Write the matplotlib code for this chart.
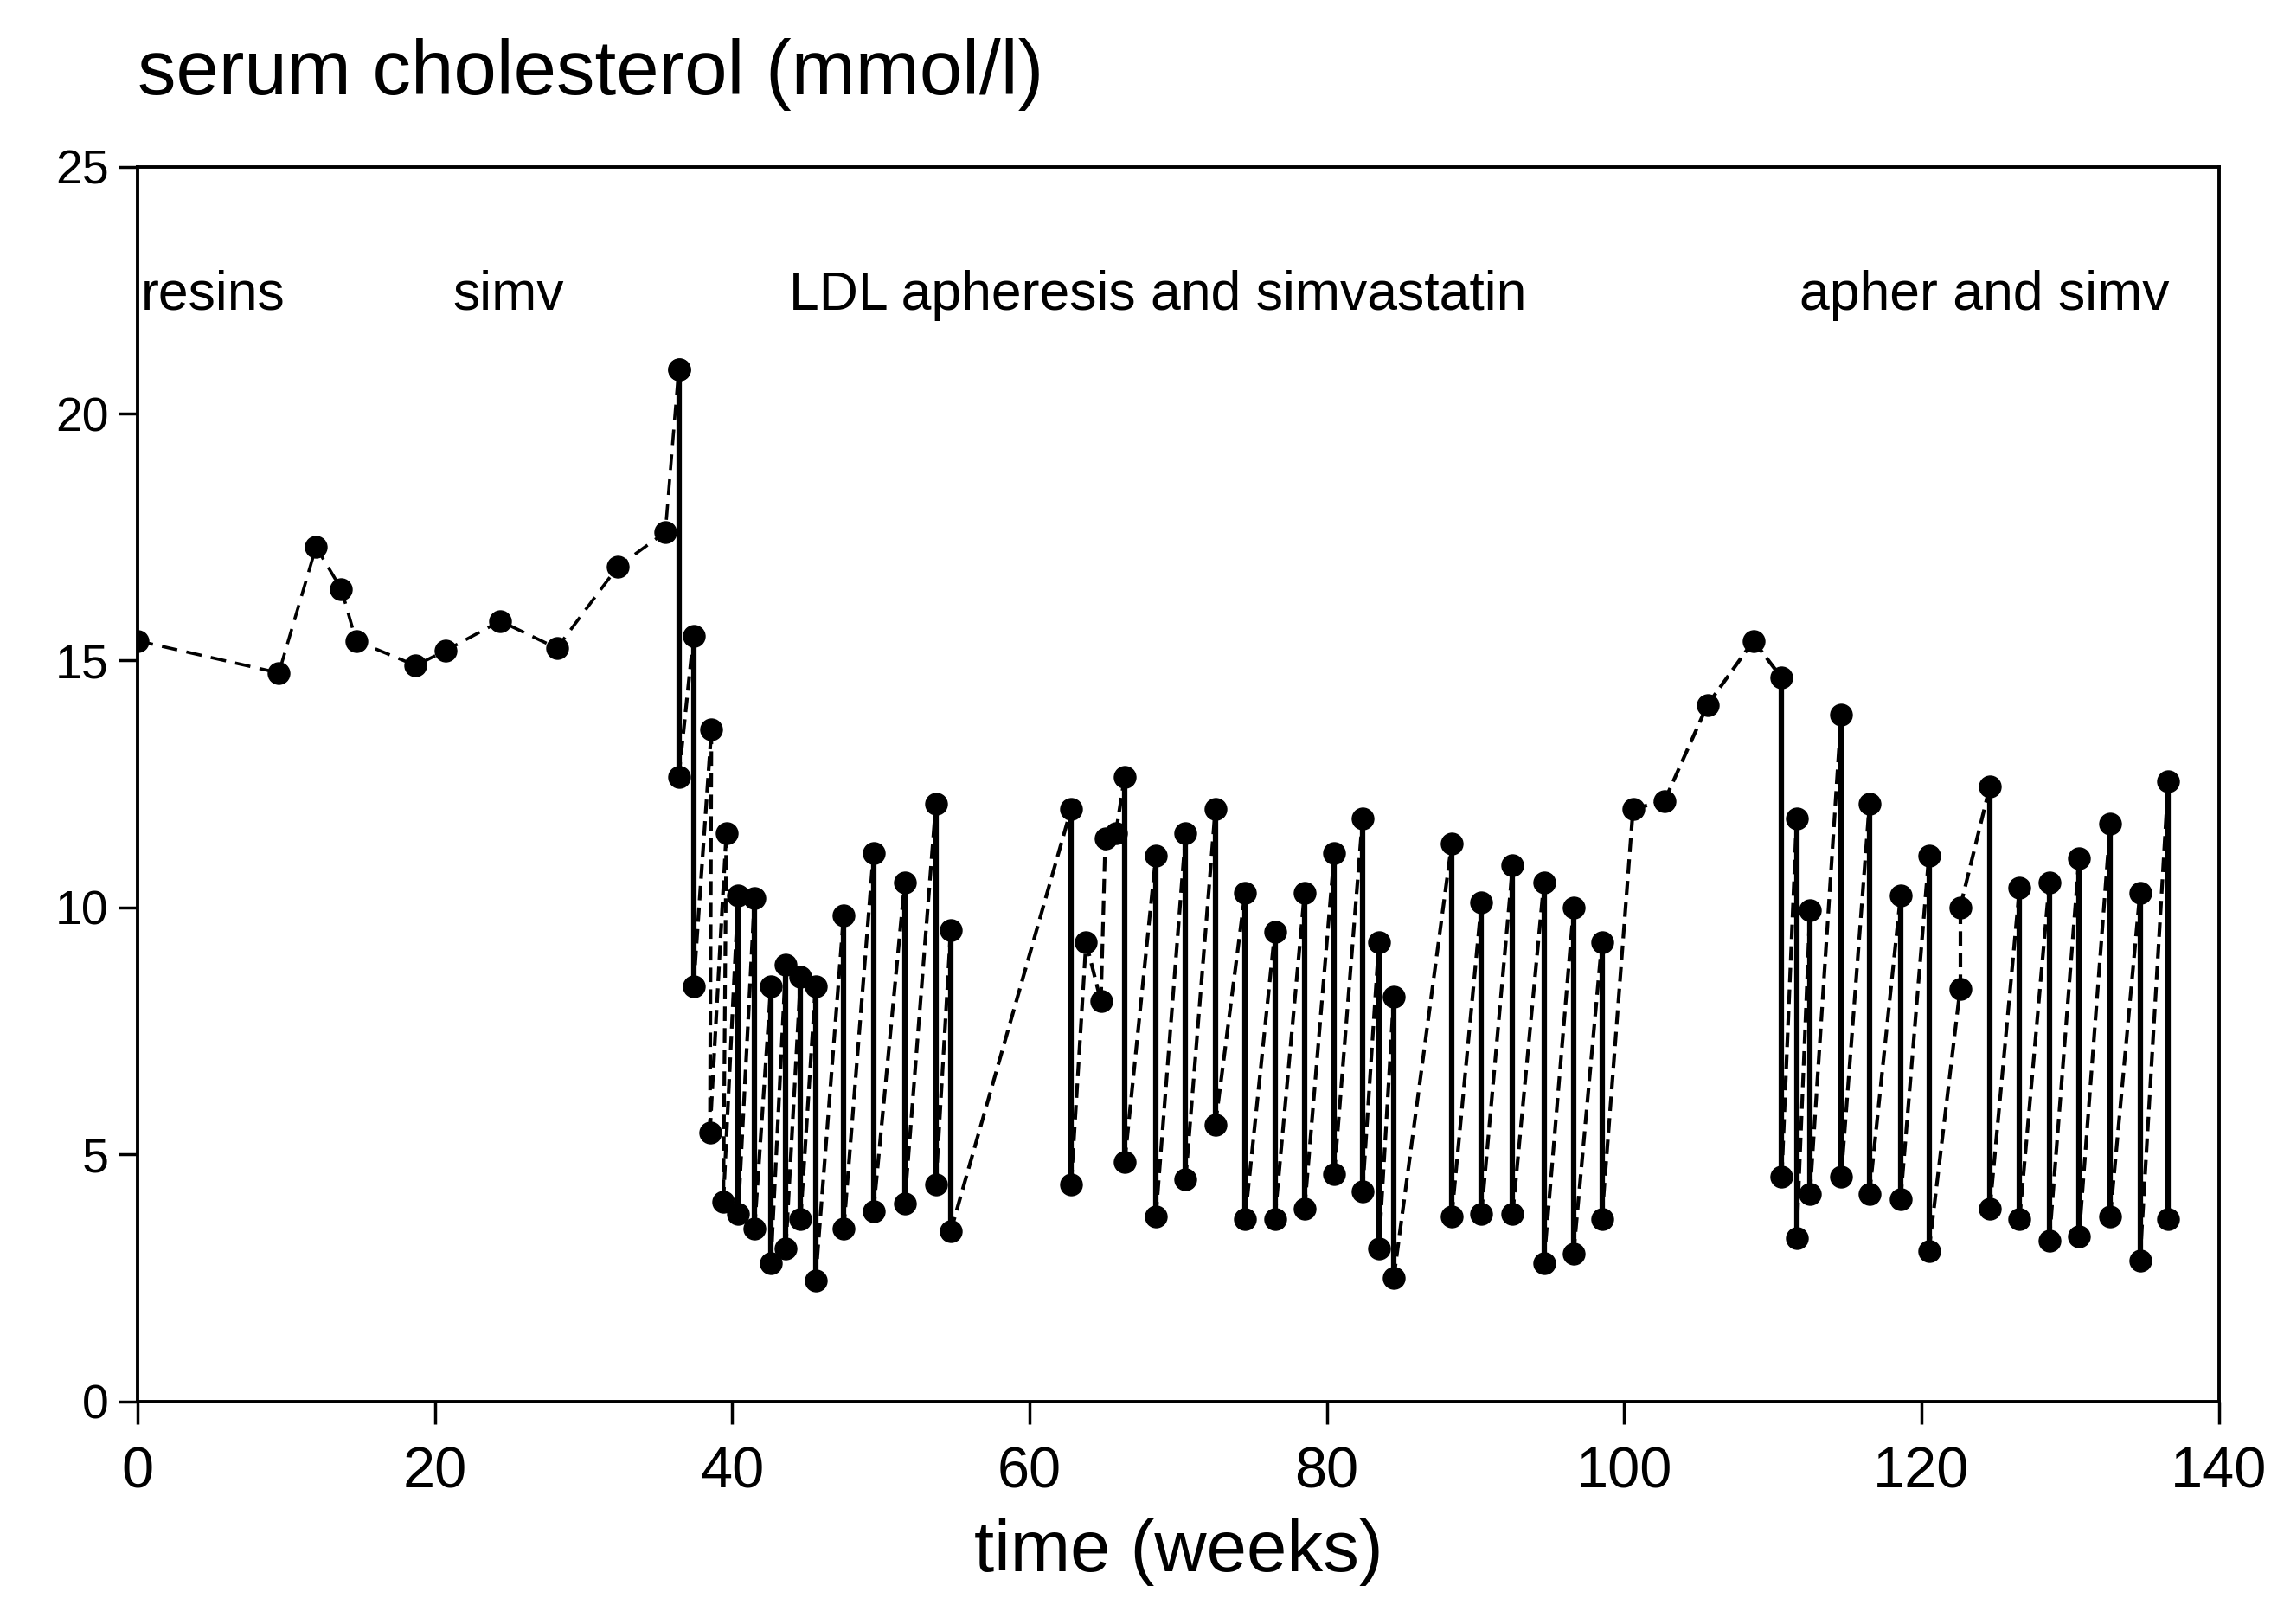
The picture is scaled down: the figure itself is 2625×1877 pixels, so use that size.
import matplotlib
matplotlib.use('Agg')
import matplotlib.pyplot as plt

# ---------------- data ----------------
pre_weeks = [0, 9.5, 12.0, 13.7, 14.7, 18.7, 20.7, 24.4, 28.2, 32.3, 35.5, 36.4]
pre_chol = [15.4, 14.75, 17.3, 16.45, 15.4, 14.9, 15.2, 15.8, 15.25, 16.9, 17.6, 20.9]

aph_weeks = [36.4, 36.4, 37.4, 37.4, 38.6, 38.5, 39.6, 39.4, 40.4, 40.4,
             41.5, 41.5, 42.6, 42.6, 43.6, 43.6, 44.6, 44.6, 45.6, 45.6,
             47.5, 47.5, 49.5, 49.5, 51.6, 51.6, 53.7, 53.7, 54.7, 54.7,
             62.8, 62.8, 63.8, 64.8, 65.1, 65.8, 66.4, 66.4, 68.5, 68.5,
             70.5, 70.5, 72.5, 72.5, 74.5, 74.5, 76.5, 76.5, 78.5, 78.5,
             80.5, 80.5, 82.4, 82.4, 83.5, 83.5, 84.5, 84.5, 88.4, 88.4,
             90.4, 90.4, 92.5, 92.5, 94.6, 94.6, 96.6, 96.6, 98.5, 98.5,
             100.6, 102.7, 105.6, 108.7, 110.6, 110.6,
             111.6, 111.6, 112.5, 112.5, 114.6, 114.6, 116.5, 116.5,
             118.6, 118.6, 120.5, 120.5, 122.6, 122.6, 124.6, 124.6,
             126.6, 126.6, 128.6, 128.6, 130.6, 130.6, 132.7, 132.7,
             134.7, 134.7, 136.6, 136.6]
aph_chol = [20.9, 12.65, 15.5, 8.4, 13.6, 5.45, 11.5, 4.05, 10.25, 3.8,
            10.2, 3.5, 8.4, 2.8, 8.85, 3.1, 8.6, 3.7, 8.4, 2.45,
            9.85, 3.5, 11.1, 3.85, 10.5, 4.0, 12.1, 4.4, 9.55, 3.45,
            12.0, 4.4, 9.3, 8.1, 11.4, 11.5, 12.65, 4.85, 11.05, 3.75,
            11.5, 4.5, 12.0, 5.6, 10.3, 3.7, 9.5, 3.7, 10.3, 3.9,
            11.1, 4.6, 11.8, 4.25, 9.3, 3.1, 8.2, 2.5, 11.3, 3.75,
            10.1, 3.8, 10.85, 3.8, 10.5, 2.8, 10.0, 3.0, 9.3, 3.7,
            12.0, 12.15, 14.1, 15.4, 14.65, 4.55,
            11.8, 3.3, 9.95, 4.2, 13.9, 4.55, 12.1, 4.2,
            10.25, 4.1, 11.05, 3.05, 8.35, 10.0, 12.45, 3.9,
            10.4, 3.7, 10.5, 3.25, 11.0, 3.35, 11.7, 3.75,
            10.3, 2.85, 12.55, 3.7]

phase_labels = ["resins", "simv", "LDL apheresis and simvastatin", "apher and simv"]
phase_x = [0.2, 21.2, 43.8, 111.8]

x_ticks = [0, 20, 40, 60, 80, 100, 120, 140]
y_ticks = [0, 5, 10, 15, 20, 25]

# ---------------- figure ----------------
FONT = ['Liberation Sans Narrow', 'Liberation Sans', 'DejaVu Sans']
plt.rcParams['font.family'] = FONT

fig = plt.figure(figsize=(26.25, 18.77), dpi=100)
ax = fig.add_axes([0.0606, 0.137, 0.977 - 0.0606, 0.8974 - 0.137])

# pre-apheresis phase: thin dashed line
ax.plot(pre_weeks, pre_chol, color='black', lw=2.6, linestyle=(0, (5, 3)),
        marker='o', markersize=18, markerfacecolor='black', zorder=3)

# apheresis phase: solid drops on the same day, dashed rebounds
for i in range(len(aph_weeks) - 1):
    x0, x1 = aph_weeks[i], aph_weeks[i + 1]
    y0, y1 = aph_chol[i], aph_chol[i + 1]
    if x0 == x1 and y1 < y0:
        ax.plot([x0, x1], [y0, y1], color='black', lw=4.5, solid_capstyle='butt', zorder=2)
    else:
        ax.plot([x0, x1], [y0, y1], color='black', lw=3.0, linestyle=(0, (4, 2)), zorder=2)
ax.plot(aph_weeks, aph_chol, linestyle='none', marker='o', markersize=18,
        color='black', zorder=3)

for lbl, xp in zip(phase_labels, phase_x):
    ax.text(xp, 22.4, lbl, fontsize=45, va='center', ha='left', color='black')

ax.set_xlim(0, 140)
ax.set_ylim(0, 25)
ax.set_xticks(x_ticks)
ax.set_yticks(y_ticks)
ax.set_xticklabels([str(v) for v in x_ticks], fontsize=48)
ax.set_yticklabels([str(v) for v in y_ticks], fontsize=40)
ax.tick_params(axis='x', direction='out', length=19, width=2.5, pad=18)
ax.tick_params(axis='y', direction='out', length=16, width=2.5, pad=8)
for sp in ax.spines.values():
    sp.set_linewidth(2.8)
    sp.set_color('black')

ax.set_xlabel("time (weeks)", fontsize=60)
ax.xaxis.set_label_coords(0.5, -0.095)

fig.text(0.0606, 0.942, "serum cholesterol (mmol/l)", fontsize=64, ha='left', va='baseline')

fig.savefig("out.png", dpi=100, facecolor='white')
